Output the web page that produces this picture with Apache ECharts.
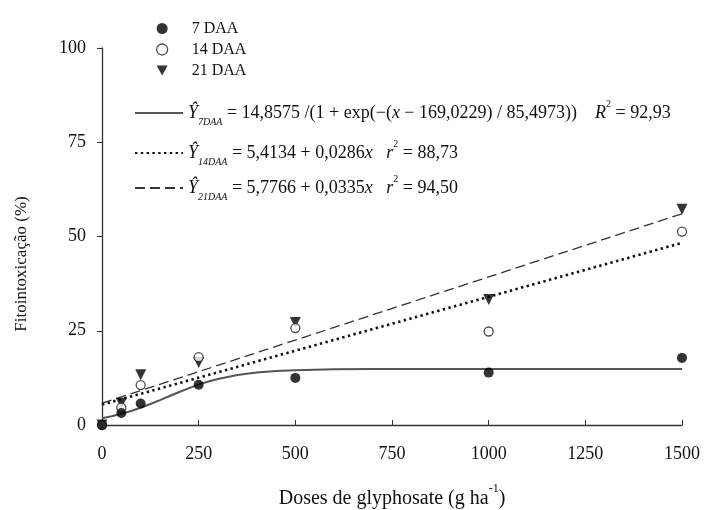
<!DOCTYPE html>
<html>
<head>
<meta charset="utf-8">
<script src="https://cdn.jsdelivr.net/npm/echarts@6/dist/echarts.min.js"></script>
<style>html,body{margin:0;padding:0;background:#fff}#c{width:710px;height:510px}</style>
</head>
<body>
<div id="c"></div>
<script>
// observed data
const doses = [0, 50, 100, 250, 500, 1000, 1500];
const daa7  = [0, 3.2, 5.7, 10.7, 12.5, 13.9, 17.8];
const daa14 = [0, 4.6, 10.6, 18.0, 25.7, 24.8, 51.3];
const daa21 = [0, 5.8, 13.3, 16.6, 27.2, 33.3, 57.2];
// fitted curves
const fitX7  = [0,25,50,75,100,125,150,175,200,225,250,275,300,350,400,450,500,600,700,800,1000,1500];
const fitY7  = [1.81,2.33,2.96,3.71,4.58,5.56,6.61,7.69,8.76,9.78,10.71,11.52,12.22,13.26,13.92,14.32,14.55,14.76,14.83,14.85,14.86,14.86];
const fitX14 = [0, 1500];
const fitY14 = [5.41, 48.31];
const fitX21 = [0, 1500];
const fitY21 = [5.78, 56.03];
const xTicks = [0, 250, 500, 750, 1000, 1250, 1500];
const yTicks = [0, 25, 50, 75, 100];

const FONT = '"Liberation Serif", "DejaVu Serif", serif';
const pairs = (xs, ys) => xs.map((x, i) => [x, ys[i]]);

const eqRich = {
  n: {fontFamily: FONT, fontSize: 18, color: '#111', lineHeight: 22},
  i: {fontFamily: FONT, fontSize: 18, fontStyle: 'italic', color: '#111', lineHeight: 22},
  sub: {fontFamily: FONT, fontSize: 10, fontStyle: 'italic', color: '#111', verticalAlign: 'bottom', lineHeight: 14},
  sup: {fontFamily: FONT, fontSize: 10, color: '#111', verticalAlign: 'top', lineHeight: 28}
};
const eqText = {
  'fit7': '{i|Ŷ}{sub|7DAA}{n| = 14,8575 /(1 + exp(−(}{i|x}{n| − 169,0229) / 85,4973))    }{i|R}{sup|2}{n| = 92,93}',
  'fit14': '{i|Ŷ}{sub|14DAA}{n| = 5,4134 + 0,0286}{i|x}{n|   }{i|r}{sup|2}{n| = 88,73}',
  'fit21': '{i|Ŷ}{sub|21DAA}{n| = 5,7766 + 0,0335}{i|x}{n|   }{i|r}{sup|2}{n| = 94,50}'
};
const eqLegend = (name, top) => ({
  data: [name], left: 129, top: top, itemWidth: 48, itemHeight: 14,
  selectedMode: false,
  itemStyle: {opacity: 0, borderWidth: 0},
  formatter: n => eqText[n],
  textStyle: {rich: eqRich}
});

const chart = echarts.init(document.getElementById('c'), null, {renderer: 'canvas'});
chart.setOption({
  animation: false,
  backgroundColor: '#fff',
  grid: {left: 102, right: 28, top: 48, bottom: 85, containLabel: false, outerBoundsMode: 'none'},
  legend: [
    {
      data: [
        {name: '7 DAA', icon: 'circle'},
        {name: '14 DAA', icon: 'circle', itemStyle: {color: '#fff', borderColor: '#222', borderWidth: 1.3}},
        {name: '21 DAA', icon: 'path://M0,0L10,0L5,9Z'}
      ],
      orient: 'vertical', left: 151, top: 15,
      itemWidth: 11, itemHeight: 11, itemGap: 4, selectedMode: false,
      textStyle: {fontFamily: FONT, fontSize: 16, color: '#111', padding: [0, 0, 0, 19], lineHeight: 17}
    },
    eqLegend('fit7', 94),
    eqLegend('fit14', 134),
    eqLegend('fit21', 169)
  ],
  xAxis: {
    type: 'value', min: 0, max: 1500, interval: 250,
    name: 'Doses de glyphosate (g ha{sup|-1})',
    nameLocation: 'middle', nameGap: 58,
    nameTextStyle: {fontFamily: FONT, fontSize: 20, color: '#111',
      rich: {sup: {fontFamily: FONT, fontSize: 12, color: '#111', verticalAlign: 'top', lineHeight: 32}}},
    axisLine: {lineStyle: {color: '#333', width: 1.3}},
    axisTick: {inside: true, length: 5, lineStyle: {color: '#333'}},
    axisLabel: {fontFamily: FONT, fontSize: 18, color: '#111', margin: 20,
      formatter: v => xTicks.includes(v) ? String(v) : ''},
    splitLine: {show: false}
  },
  yAxis: {
    type: 'value', min: 0, max: 100, interval: 25,
    axisLine: {show: true, lineStyle: {color: '#333', width: 1.3}},
    axisTick: {show: true, inside: false, length: 5, lineStyle: {color: '#333'}},
    axisLabel: {fontFamily: FONT, fontSize: 18, color: '#111', margin: 16,
      formatter: v => yTicks.includes(v) ? String(v) : ''},
    splitLine: {show: false}
  },
  graphic: [{
    type: 'text', x: 22, y: 264, rotation: Math.PI / 2,
    style: {text: 'Fitointoxicação (%)', fontFamily: FONT, fontSize: 17, fill: '#111',
      align: 'center', verticalAlign: 'middle'}
  }],
  series: [
    {name: 'fit7', type: 'line', data: pairs(fitX7, fitY7), symbol: 'none', smooth: false,
      lineStyle: {color: '#555', width: 2, type: 'solid'}, itemStyle: {color: 'rgba(0,0,0,0)'}, z: 2},
    {name: 'fit14', type: 'line', data: pairs(fitX14, fitY14), symbol: 'none',
      lineStyle: {color: '#111', width: 2.6, type: [2.4, 3.4]}, itemStyle: {color: 'rgba(0,0,0,0)'}, z: 2},
    {name: 'fit21', type: 'line', data: pairs(fitX21, fitY21), symbol: 'none',
      lineStyle: {color: '#333', width: 1.3, type: [10, 5]}, itemStyle: {color: 'rgba(0,0,0,0)'}, z: 2},
    {name: '7 DAA', type: 'scatter', data: pairs(doses, daa7), symbol: 'circle', symbolSize: 10,
      itemStyle: {color: '#000'}, z: 5},
    {name: '14 DAA', type: 'scatter', data: pairs(doses, daa14), symbol: 'circle', symbolSize: 9,
      itemStyle: {color: '#fff', borderColor: '#222', borderWidth: 1.3}, z: 4},
    {name: '21 DAA', type: 'scatter', data: pairs(doses, daa21), symbol: 'triangle', symbolRotate: 180, symbolSize: 11,
      itemStyle: {color: '#000'}, z: 3}
  ]
});
</script>
</body>
</html>
